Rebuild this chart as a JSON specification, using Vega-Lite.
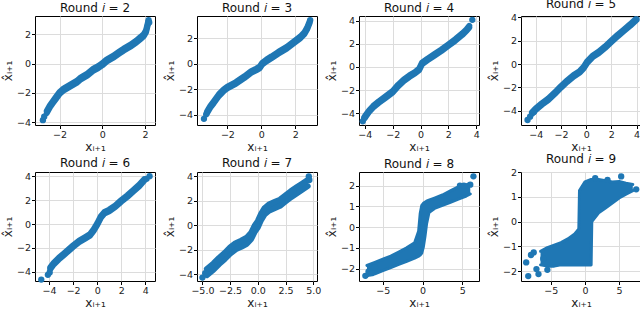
{
"$schema": "https://vega.github.io/schema/vega-lite/v6.json",
"padding": {"left": 0, "top": -3, "right": 0, "bottom": 0},
"bounds": "flush",
"columns": 4,
"spacing": {"column": 42, "row": 47},
"config": {
  "font": "DejaVu Sans",
  "view": {"stroke": "#000", "strokeWidth": 1},
  "axis": {"grid": true, "gridColor": "#dcdcdc", "domain": false, "tickColor": "#000", "tickSize": 3.5, "labelFontSize": 9.5, "labelColor": "#222", "titleFontSize": 12, "titleFontWeight": "normal", "titleColor": "#222", "labelPadding": 1, "titlePadding": 2, "labelFlush": false},
  "title": {"fontSize": 12, "fontWeight": "normal", "baseline": "alphabetic", "offset": 1, "color": "#111"},
  "line": {"color": "#1f77b4", "strokeWidth": 6, "strokeCap": "round", "strokeJoin": "round"},
  "area": {"color": "#1f77b4", "opacity": 1},
  "circle": {"color": "#1f77b4", "size": 40, "opacity": 1}
},
"datasets": {
"band": [
{"r":2,"x":-2.6,"y":-3.37,"hi":-3.23},{"r":2,"x":-2.45,"y":-2.97,"hi":-2.83},{"r":2,"x":-2.3,"y":-2.67,"hi":-2.53},{"r":2,"x":-2.15,"y":-2.37,"hi":-2.23},{"r":2,"x":-2.0,"y":-2.07,"hi":-1.93},{"r":2,"x":-1.8,"y":-1.82,"hi":-1.68},{"r":2,"x":-1.5,"y":-1.57,"hi":-1.43},{"r":2,"x":-1.2,"y":-1.32,"hi":-1.18},{"r":2,"x":-1.0,"y":-1.07,"hi":-0.93},{"r":2,"x":-0.7,"y":-0.82,"hi":-0.68},{"r":2,"x":-0.4,"y":-0.47,"hi":-0.33},{"r":2,"x":-0.2,"y":-0.32,"hi":-0.18},{"r":2,"x":0.0,"y":-0.12,"hi":0.02},{"r":2,"x":0.2,"y":0.13,"hi":0.27},{"r":2,"x":0.5,"y":0.38,"hi":0.52},{"r":2,"x":0.8,"y":0.68,"hi":0.82},{"r":2,"x":1.0,"y":0.88,"hi":1.02},{"r":2,"x":1.3,"y":1.13,"hi":1.27},{"r":2,"x":1.6,"y":1.43,"hi":1.57},{"r":2,"x":1.8,"y":1.68,"hi":1.82},{"r":2,"x":1.95,"y":1.88,"hi":2.02},{"r":2,"x":2.05,"y":2.13,"hi":2.27},{"r":2,"x":2.1,"y":2.43,"hi":2.57},{"r":2,"x":2.15,"y":2.73,"hi":2.87},
{"r":3,"x":-3.2,"y":-3.87,"hi":-3.73},{"r":3,"x":-3.0,"y":-3.42,"hi":-3.28},{"r":3,"x":-2.8,"y":-3.07,"hi":-2.93},{"r":3,"x":-2.5,"y":-2.52,"hi":-2.38},{"r":3,"x":-2.2,"y":-2.12,"hi":-1.98},{"r":3,"x":-2.0,"y":-1.92,"hi":-1.78},{"r":3,"x":-1.5,"y":-1.57,"hi":-1.43},{"r":3,"x":-1.0,"y":-1.12,"hi":-0.98},{"r":3,"x":-0.6,"y":-0.72,"hi":-0.58},{"r":3,"x":-0.3,"y":-0.52,"hi":-0.38},{"r":3,"x":-0.1,"y":-0.37,"hi":-0.23},{"r":3,"x":0.05,"y":-0.07,"hi":0.07},{"r":3,"x":0.3,"y":0.18,"hi":0.32},{"r":3,"x":0.6,"y":0.43,"hi":0.57},{"r":3,"x":1.0,"y":0.78,"hi":0.92},{"r":3,"x":1.5,"y":1.18,"hi":1.32},{"r":3,"x":2.0,"y":1.68,"hi":1.82},{"r":3,"x":2.3,"y":1.98,"hi":2.12},{"r":3,"x":2.55,"y":2.33,"hi":2.47},{"r":3,"x":2.7,"y":2.68,"hi":2.82},{"r":3,"x":2.85,"y":3.18,"hi":3.32},
{"r":4,"x":-4.0,"y":-4.42,"hi":-4.28},{"r":4,"x":-3.7,"y":-3.92,"hi":-3.78},{"r":4,"x":-3.4,"y":-3.52,"hi":-3.38},{"r":4,"x":-3.0,"y":-3.12,"hi":-2.98},{"r":4,"x":-2.5,"y":-2.67,"hi":-2.53},{"r":4,"x":-2.0,"y":-2.22,"hi":-2.08},{"r":4,"x":-1.6,"y":-1.67,"hi":-1.53},{"r":4,"x":-1.2,"y":-1.22,"hi":-1.08},{"r":4,"x":-0.8,"y":-0.87,"hi":-0.73},{"r":4,"x":-0.4,"y":-0.57,"hi":-0.43},{"r":4,"x":-0.1,"y":-0.27,"hi":-0.13},{"r":4,"x":0.1,"y":0.23,"hi":0.37},{"r":4,"x":0.5,"y":0.58,"hi":0.72},{"r":4,"x":1.0,"y":0.98,"hi":1.12},{"r":4,"x":1.5,"y":1.38,"hi":1.52},{"r":4,"x":2.0,"y":1.83,"hi":1.97},{"r":4,"x":2.5,"y":2.28,"hi":2.42},{"r":4,"x":3.0,"y":2.78,"hi":2.92},{"r":4,"x":3.3,"y":3.13,"hi":3.27},{"r":4,"x":3.5,"y":3.43,"hi":3.57},
{"r":5,"x":-4.3,"y":-4.27,"hi":-4.13},{"r":5,"x":-4.0,"y":-3.92,"hi":-3.78},{"r":5,"x":-3.5,"y":-3.47,"hi":-3.33},{"r":5,"x":-3.0,"y":-3.07,"hi":-2.93},{"r":5,"x":-2.5,"y":-2.57,"hi":-2.43},{"r":5,"x":-2.0,"y":-2.02,"hi":-1.88},{"r":5,"x":-1.5,"y":-1.52,"hi":-1.38},{"r":5,"x":-1.0,"y":-1.07,"hi":-0.93},{"r":5,"x":-0.5,"y":-0.72,"hi":-0.58},{"r":5,"x":-0.2,"y":-0.37,"hi":-0.23},{"r":5,"x":0.1,"y":0.13,"hi":0.27},{"r":5,"x":0.5,"y":0.58,"hi":0.72},{"r":5,"x":1.0,"y":0.93,"hi":1.07},{"r":5,"x":1.5,"y":1.38,"hi":1.52},{"r":5,"x":2.0,"y":1.88,"hi":2.02},{"r":5,"x":2.5,"y":2.38,"hi":2.52},{"r":5,"x":3.0,"y":2.83,"hi":2.97},{"r":5,"x":3.5,"y":3.28,"hi":3.42},{"r":5,"x":3.9,"y":3.68,"hi":3.82},
{"r":6,"x":-3.9,"y":-3.77,"hi":-3.63},{"r":6,"x":-3.6,"y":-3.37,"hi":-3.23},{"r":6,"x":-3.2,"y":-2.97,"hi":-2.83},{"r":6,"x":-2.8,"y":-2.62,"hi":-2.48},{"r":6,"x":-2.4,"y":-2.27,"hi":-2.13},{"r":6,"x":-2.0,"y":-1.92,"hi":-1.78},{"r":6,"x":-1.5,"y":-1.52,"hi":-1.38},{"r":6,"x":-1.0,"y":-1.22,"hi":-1.08},{"r":6,"x":-0.6,"y":-0.97,"hi":-0.83},{"r":6,"x":-0.3,"y":-0.57,"hi":-0.43},{"r":6,"x":0.0,"y":-0.07,"hi":0.07},{"r":6,"x":0.3,"y":0.53,"hi":0.67},{"r":6,"x":0.6,"y":0.88,"hi":1.02},{"r":6,"x":1.0,"y":1.08,"hi":1.22},{"r":6,"x":1.5,"y":1.43,"hi":1.57},{"r":6,"x":2.0,"y":1.88,"hi":2.02},{"r":6,"x":2.5,"y":2.28,"hi":2.42},{"r":6,"x":3.0,"y":2.73,"hi":2.87},{"r":6,"x":3.5,"y":3.18,"hi":3.32},{"r":6,"x":3.9,"y":3.63,"hi":3.77},
{"r":7,"x":-4.6,"y":-4.05,"hi":-3.55},{"r":7,"x":-4.0,"y":-3.6,"hi":-3.1},{"r":7,"x":-3.5,"y":-3.15,"hi":-2.65},{"r":7,"x":-3.0,"y":-2.75,"hi":-2.25},{"r":7,"x":-2.5,"y":-2.3,"hi":-1.8},{"r":7,"x":-2.0,"y":-1.95,"hi":-1.45},{"r":7,"x":-1.5,"y":-1.75,"hi":-1.25},{"r":7,"x":-1.0,"y":-1.5,"hi":-1.0},{"r":7,"x":-0.6,"y":-1.1,"hi":-0.6},{"r":7,"x":-0.3,"y":-0.55,"hi":-0.05},{"r":7,"x":0.0,"y":-0.15,"hi":0.35},{"r":7,"x":0.3,"y":0.45,"hi":0.95},{"r":7,"x":0.6,"y":0.9,"hi":1.4},{"r":7,"x":1.0,"y":1.2,"hi":1.7},{"r":7,"x":1.5,"y":1.4,"hi":1.9},{"r":7,"x":2.0,"y":1.6,"hi":2.1},{"r":7,"x":2.5,"y":1.95,"hi":2.45},{"r":7,"x":3.0,"y":2.3,"hi":2.8},{"r":7,"x":3.5,"y":2.6,"hi":3.1},{"r":7,"x":4.0,"y":2.9,"hi":3.4},{"r":7,"x":4.5,"y":3.2,"hi":3.7},
{"r":8,"x":-7.0,"y":-2.35,"hi":-1.85},{"r":8,"x":-6.0,"y":-2.25,"hi":-1.7},{"r":8,"x":-5.0,"y":-2.1,"hi":-1.55},{"r":8,"x":-4.0,"y":-1.95,"hi":-1.4},{"r":8,"x":-3.0,"y":-1.8,"hi":-1.2},{"r":8,"x":-2.0,"y":-1.65,"hi":-1.0},{"r":8,"x":-1.0,"y":-1.5,"hi":-0.75},{"r":8,"x":-0.5,"y":-1.4,"hi":-0.2},{"r":8,"x":-0.3,"y":-1.35,"hi":0.65},{"r":8,"x":-0.1,"y":-1.25,"hi":1.05},{"r":8,"x":0.1,"y":-0.95,"hi":1.15},{"r":8,"x":0.3,"y":-0.45,"hi":1.2},{"r":8,"x":0.5,"y":0.15,"hi":1.25},{"r":8,"x":0.8,"y":0.7,"hi":1.3},{"r":8,"x":1.5,"y":0.9,"hi":1.4},{"r":8,"x":2.5,"y":1.05,"hi":1.55},{"r":8,"x":3.5,"y":1.2,"hi":1.75},{"r":8,"x":4.5,"y":1.35,"hi":1.95},{"r":8,"x":5.5,"y":1.5,"hi":2.05},{"r":8,"x":6.0,"y":1.6,"hi":2.1},
{"r":9,"x":-6.5,"y":-1.75,"hi":-1.2},{"r":9,"x":-5.5,"y":-1.8,"hi":-1.05},{"r":9,"x":-4.5,"y":-1.8,"hi":-0.95},{"r":9,"x":-3.5,"y":-1.75,"hi":-0.85},{"r":9,"x":-2.5,"y":-1.75,"hi":-0.7},{"r":9,"x":-1.5,"y":-1.75,"hi":-0.5},{"r":9,"x":-0.9,"y":-1.75,"hi":-0.3},{"r":9,"x":-0.8,"y":-1.75,"hi":1.25},{"r":9,"x":0.0,"y":-1.75,"hi":1.6},{"r":9,"x":0.9,"y":-1.75,"hi":1.7},{"r":9,"x":1.0,"y":0.0,"hi":1.7},{"r":9,"x":2.0,"y":0.35,"hi":1.7},{"r":9,"x":3.0,"y":0.55,"hi":1.65},{"r":9,"x":4.0,"y":0.75,"hi":1.6},{"r":9,"x":5.0,"y":0.95,"hi":1.62},{"r":9,"x":6.0,"y":1.1,"hi":1.55},{"r":9,"x":7.0,"y":1.25,"hi":1.5}
],
"pts": [
{"r":2,"x":-2.78,"y":-3.85},{"r":2,"x":-2.72,"y":-3.62},{"r":2,"x":2.17,"y":2.95},{"r":2,"x":2.2,"y":2.8},
{"r":3,"x":-3.38,"y":-4.3},{"r":3,"x":-3.25,"y":-3.95},{"r":3,"x":2.88,"y":3.4},
{"r":4,"x":-4.15,"y":-4.72},{"r":4,"x":-4.05,"y":-4.45},{"r":4,"x":3.72,"y":4.1},
{"r":5,"x":-4.65,"y":-4.78},{"r":5,"x":-4.45,"y":-4.5},{"r":5,"x":-4.15,"y":-4.1},{"r":5,"x":4.0,"y":3.82},
{"r":6,"x":-4.65,"y":-4.65},{"r":6,"x":-4.1,"y":-4.25},{"r":6,"x":-3.95,"y":-4.05},{"r":6,"x":4.1,"y":3.8},{"r":6,"x":4.35,"y":4.02},
{"r":7,"x":-5.0,"y":-4.25},{"r":7,"x":-4.75,"y":-3.9},{"r":7,"x":4.6,"y":4.0},{"r":7,"x":4.65,"y":3.7},
{"r":8,"x":-7.2,"y":-2.35},{"r":8,"x":-6.8,"y":-2.15},{"r":8,"x":-6.4,"y":-2.22},{"r":8,"x":-6.0,"y":-1.95},{"r":8,"x":4.7,"y":2.0},{"r":8,"x":5.2,"y":2.0},{"r":8,"x":6.0,"y":2.05},{"r":8,"x":6.4,"y":2.45},
{"r":9,"x":-8.3,"y":-2.2},{"r":9,"x":-8.6,"y":-1.65},{"r":9,"x":-7.1,"y":-1.92},{"r":9,"x":-6.8,"y":-2.12},{"r":9,"x":-5.5,"y":-1.95},{"r":9,"x":-6.1,"y":-1.5},{"r":9,"x":-7.5,"y":-1.25},{"r":9,"x":-7.9,"y":-1.35},{"r":9,"x":5.3,"y":1.82},{"r":9,"x":7.5,"y":1.3},{"r":9,"x":3.3,"y":1.68},{"r":9,"x":1.5,"y":1.75}
]
},
"concat": [
{"width":120,"height":109,"title":"Round 𝑖 = 2",
 "encoding":{"x":{"field":"x","type":"quantitative","scale":{"domain":[-3.15,2.47],"nice":false,"zero":false},"axis":{"values":[-2,0,2],"title":"xᵢ₊₁"}},
  "y":{"field":"y","type":"quantitative","scale":{"domain":[-4.18,3.24],"nice":false,"zero":false},"axis":{"values":[-4,-2,0,2],"title":"x̂ᵢ₊₁"}}},
 "layer":[
  {"data":{"name":"band"},"transform":[{"filter":"datum.r==2"}],"mark":"area","encoding":{"y2":{"field":"hi"}}},
  {"data":{"name":"band"},"transform":[{"filter":"datum.r==2"}],"mark":"line","encoding":{}},
  {"data":{"name":"band"},"transform":[{"filter":"datum.r==2"},{"fold":["hi"],"as":["e","y"]}],"mark":"line","encoding":{}},
  {"data":{"name":"pts"},"transform":[{"filter":"datum.r==2"}],"mark":"circle","encoding":{}}
 ]},
{"width":120,"height":109,"title":"Round 𝑖 = 3",
 "encoding":{"x":{"field":"x","type":"quantitative","scale":{"domain":[-3.79,3.28],"nice":false,"zero":false},"axis":{"values":[-2,0,2],"title":"xᵢ₊₁"}},
  "y":{"field":"y","type":"quantitative","scale":{"domain":[-4.78,3.72],"nice":false,"zero":false},"axis":{"values":[-4,-2,0,2],"title":"x̂ᵢ₊₁"}}},
 "layer":[
  {"data":{"name":"band"},"transform":[{"filter":"datum.r==3"}],"mark":"area","encoding":{"y2":{"field":"hi"}}},
  {"data":{"name":"band"},"transform":[{"filter":"datum.r==3"}],"mark":"line","encoding":{}},
  {"data":{"name":"band"},"transform":[{"filter":"datum.r==3"},{"fold":["hi"],"as":["e","y"]}],"mark":"line","encoding":{}},
  {"data":{"name":"pts"},"transform":[{"filter":"datum.r==3"}],"mark":"circle","encoding":{}}
 ]},
{"width":120,"height":109,"title":"Round 𝑖 = 4",
 "encoding":{"x":{"field":"x","type":"quantitative","scale":{"domain":[-4.42,4.2],"nice":false,"zero":false},"axis":{"values":[-4,-2,0,2,4],"title":"xᵢ₊₁"}},
  "y":{"field":"y","type":"quantitative","scale":{"domain":[-5.04,4.43],"nice":false,"zero":false},"axis":{"values":[-4,-2,0,2,4],"title":"x̂ᵢ₊₁"}}},
 "layer":[
  {"data":{"name":"band"},"transform":[{"filter":"datum.r==4"}],"mark":"area","encoding":{"y2":{"field":"hi"}}},
  {"data":{"name":"band"},"transform":[{"filter":"datum.r==4"}],"mark":"line","encoding":{}},
  {"data":{"name":"band"},"transform":[{"filter":"datum.r==4"},{"fold":["hi"],"as":["e","y"]}],"mark":"line","encoding":{}},
  {"data":{"name":"pts"},"transform":[{"filter":"datum.r==4"}],"mark":"circle","encoding":{}}
 ]},
{"width":120,"height":109,"title":"Round 𝑖 = 5",
 "encoding":{"x":{"field":"x","type":"quantitative","scale":{"domain":[-5.17,4.35],"nice":false,"zero":false},"axis":{"values":[-4,-2,0,2,4],"title":"xᵢ₊₁"}},
  "y":{"field":"y","type":"quantitative","scale":{"domain":[-5.21,4.12],"nice":false,"zero":false},"axis":{"values":[-4,-2,0,2,4],"title":"x̂ᵢ₊₁"}}},
 "layer":[
  {"data":{"name":"band"},"transform":[{"filter":"datum.r==5"}],"mark":"area","encoding":{"y2":{"field":"hi"}}},
  {"data":{"name":"band"},"transform":[{"filter":"datum.r==5"}],"mark":"line","encoding":{}},
  {"data":{"name":"band"},"transform":[{"filter":"datum.r==5"},{"fold":["hi"],"as":["e","y"]}],"mark":"line","encoding":{}},
  {"data":{"name":"pts"},"transform":[{"filter":"datum.r==5"}],"mark":"circle","encoding":{}}
 ]},
{"width":120,"height":109,"title":"Round 𝑖 = 6",
 "encoding":{"x":{"field":"x","type":"quantitative","scale":{"domain":[-5.17,4.8],"nice":false,"zero":false},"axis":{"values":[-4,-2,0,2,4],"title":"xᵢ₊₁"}},
  "y":{"field":"y","type":"quantitative","scale":{"domain":[-4.77,4.37],"nice":false,"zero":false},"axis":{"values":[-4,-2,0,2,4],"title":"x̂ᵢ₊₁"}}},
 "layer":[
  {"data":{"name":"band"},"transform":[{"filter":"datum.r==6"}],"mark":"area","encoding":{"y2":{"field":"hi"}}},
  {"data":{"name":"band"},"transform":[{"filter":"datum.r==6"}],"mark":"line","encoding":{}},
  {"data":{"name":"band"},"transform":[{"filter":"datum.r==6"},{"fold":["hi"],"as":["e","y"]}],"mark":"line","encoding":{}},
  {"data":{"name":"pts"},"transform":[{"filter":"datum.r==6"}],"mark":"circle","encoding":{}}
 ]},
{"width":120,"height":109,"title":"Round 𝑖 = 7",
 "encoding":{"x":{"field":"x","type":"quantitative","scale":{"domain":[-5.49,5.34],"nice":false,"zero":false},"axis":{"values":[-5,-2.5,0,2.5,5],"format":".1f","title":"xᵢ₊₁"}},
  "y":{"field":"y","type":"quantitative","scale":{"domain":[-4.53,4.35],"nice":false,"zero":false},"axis":{"values":[-4,-2,0,2,4],"title":"x̂ᵢ₊₁"}}},
 "layer":[
  {"data":{"name":"band"},"transform":[{"filter":"datum.r==7"}],"mark":"area","encoding":{"y2":{"field":"hi"}}},
  {"data":{"name":"band"},"transform":[{"filter":"datum.r==7"}],"mark":"line","encoding":{}},
  {"data":{"name":"band"},"transform":[{"filter":"datum.r==7"},{"fold":["hi"],"as":["e","y"]}],"mark":"line","encoding":{}},
  {"data":{"name":"pts"},"transform":[{"filter":"datum.r==7"}],"mark":"circle","encoding":{}}
 ]},
{"width":120,"height":109,"title":"Round 𝑖 = 8",
 "encoding":{"x":{"field":"x","type":"quantitative","scale":{"domain":[-8.0,7.1],"nice":false,"zero":false},"axis":{"values":[-5,0,5],"title":"xᵢ₊₁"}},
  "y":{"field":"y","type":"quantitative","scale":{"domain":[-2.6,2.66],"nice":false,"zero":false},"axis":{"values":[-2,-1,0,1,2],"title":"x̂ᵢ₊₁"}}},
 "layer":[
  {"data":{"name":"band"},"transform":[{"filter":"datum.r==8"}],"mark":"area","encoding":{"y2":{"field":"hi"}}},
  {"data":{"name":"band"},"transform":[{"filter":"datum.r==8"}],"mark":{"type":"line","strokeWidth":3},"encoding":{}},
  {"data":{"name":"band"},"transform":[{"filter":"datum.r==8"},{"fold":["hi"],"as":["e","y"]}],"mark":{"type":"line","strokeWidth":3},"encoding":{}},
  {"data":{"name":"pts"},"transform":[{"filter":"datum.r==8"}],"mark":"circle","encoding":{}}
 ]},
{"width":120,"height":109,"title":"Round 𝑖 = 9",
 "encoding":{"x":{"field":"x","type":"quantitative","scale":{"domain":[-9.36,8.2],"nice":false,"zero":false},"axis":{"values":[-5,0,5],"title":"xᵢ₊₁"}},
  "y":{"field":"y","type":"quantitative","scale":{"domain":[-2.4,2.0],"nice":false,"zero":false},"axis":{"values":[-2,-1,0,1,2],"title":"x̂ᵢ₊₁"}}},
 "layer":[
  {"data":{"name":"band"},"transform":[{"filter":"datum.r==9"}],"mark":"area","encoding":{"y2":{"field":"hi"}}},
  {"data":{"name":"band"},"transform":[{"filter":"datum.r==9"}],"mark":{"type":"line","strokeWidth":3},"encoding":{}},
  {"data":{"name":"band"},"transform":[{"filter":"datum.r==9"},{"fold":["hi"],"as":["e","y"]}],"mark":{"type":"line","strokeWidth":3},"encoding":{}},
  {"data":{"name":"pts"},"transform":[{"filter":"datum.r==9"}],"mark":"circle","encoding":{}}
 ]}
]
}
